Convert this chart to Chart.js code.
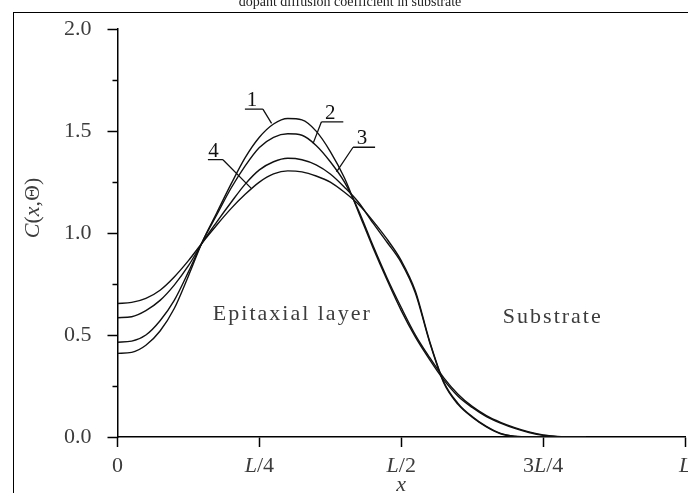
<!DOCTYPE html>
<html><head><meta charset="utf-8">
<script src="https://cdn.jsdelivr.net/npm/chart.js@4"></script>
<style>
html,body{margin:0;padding:0;background:#fff;overflow:hidden;}
#wrap{position:relative;width:688px;height:493px;overflow:hidden;}
#frame{position:absolute;left:13px;top:12px;width:720px;height:520px;border:1px solid #000;box-sizing:border-box;pointer-events:none;}
canvas{position:absolute;left:0;top:0;}
</style></head><body>
<div id="wrap"><canvas id="c" width="688" height="493"></canvas><div id="frame"></div></div>
<script>
// ---- data (x in units of L) ----
const xValues = [0, 0.025, 0.05, 0.075, 0.1, 0.125, 0.15, 0.175, 0.2, 0.225, 0.25, 0.275, 0.3, 0.325, 0.35, 0.375, 0.4, 0.425, 0.45, 0.475, 0.5, 0.525, 0.55, 0.575, 0.6, 0.625, 0.65, 0.675, 0.7, 0.725, 0.75, 0.775, 0.8, 0.825];
const curve1 = [0.41, 0.415, 0.45, 0.52, 0.63, 0.79, 0.96, 1.10, 1.24, 1.37, 1.47, 1.535, 1.562, 1.555, 1.50, 1.40, 1.27, 1.10, 0.93, 0.77, 0.62, 0.49, 0.38, 0.28, 0.20, 0.145, 0.10, 0.068, 0.042, 0.022, 0.008, 0.002, 0, 0];
const curve2 = [0.465, 0.47, 0.50, 0.57, 0.67, 0.81, 0.96, 1.09, 1.22, 1.33, 1.42, 1.47, 1.487, 1.48, 1.43, 1.35, 1.25, 1.11, 0.94, 0.78, 0.635, 0.50, 0.39, 0.29, 0.21, 0.15, 0.105, 0.072, 0.046, 0.025, 0.01, 0.003, 0, 0];
const curve3 = [0.585, 0.59, 0.62, 0.67, 0.745, 0.84, 0.955, 1.055, 1.15, 1.24, 1.31, 1.35, 1.367, 1.36, 1.335, 1.29, 1.225, 1.15, 1.05, 0.955, 0.855, 0.705, 0.465, 0.265, 0.16, 0.097, 0.05, 0.016, 0.003, 0, 0, 0, 0, 0];
const curve4 = [0.655, 0.66, 0.68, 0.72, 0.785, 0.865, 0.955, 1.04, 1.12, 1.19, 1.25, 1.29, 1.305, 1.30, 1.28, 1.25, 1.20, 1.14, 1.06, 0.97, 0.865, 0.715, 0.47, 0.27, 0.165, 0.10, 0.052, 0.018, 0.004, 0, 0, 0, 0, 0];
const curveNames = ['1', '2', '3', '4'];
const yMajorTicks = [0, 0.5, 1.0, 1.5, 2.0];
const yMinorTicks = [0.25, 0.75, 1.25, 1.75];
const xTickValues = [0, 0.25, 0.5, 0.75, 1];
const xTickLabels = ['0', 'L/4', 'L/2', '3L/4', 'L'];
const titleText = 'dopant diffusion coefficient in substrate';
const yTitle = 'C(x,\u0398)';
const xTitle = 'x';
const regionTexts = ['Epitaxial layer', 'Substrate'];
const regionAt = [[0.168, 0.575], [0.679, 0.56]];
// curve label annotations: [underline x0, x1, underline y, leader start side, leader end x, y]
const curveLabelAt = [
  [0.2245, 0.2562, 1.608, 1, 0.2715, 1.538],
  [0.3592, 0.3979, 1.545, 0, 0.3447, 1.440],
  [0.4151, 0.4539, 1.421, 0, 0.3860, 1.300],
  [0.1593, 0.1858, 1.360, 1, 0.2362, 1.218]
];

const serif = '"Liberation Serif", "Times New Roman", serif';
const textCol = '#3c3c3c';

function richSegments(str, italicChars) {
  const segs = [];
  for (const ch of str) {
    const it = italicChars.includes(ch);
    if (segs.length && segs[segs.length - 1].it === it) segs[segs.length - 1].t += ch;
    else segs.push({t: ch, it});
  }
  return segs;
}
function drawRich(ctx, segs, x, y, size, align) {
  let w = 0;
  for (const s of segs) { ctx.font = (s.it ? 'italic ' : '') + size + 'px ' + serif; w += ctx.measureText(s.t).width; }
  let cx = align === 'center' ? x - w / 2 : (align === 'right' ? x - w : x);
  ctx.textAlign = 'left';
  for (const s of segs) { ctx.font = (s.it ? 'italic ' : '') + size + 'px ' + serif; ctx.fillText(s.t, cx, y); cx += ctx.measureText(s.t).width; }
}

const extras = {
  id: 'extras',
  afterDraw(chart) {
    const {ctx, scales: {x, y}, chartArea} = chart;
    ctx.save();
    ctx.fillStyle = '#222';
    ctx.textBaseline = 'alphabetic';
    // title (cut at top)
    ctx.font = '14px ' + serif;
    ctx.textAlign = 'center';
    ctx.fillText(titleText, 350, 6);
    ctx.fillStyle = textCol;
    // minor y ticks
    ctx.strokeStyle = '#000'; ctx.lineWidth = 1.5;
    for (const v of yMinorTicks) {
      const py = Math.round(y.getPixelForValue(v)) + 0.5;
      ctx.beginPath(); ctx.moveTo(chartArea.left - 5, py); ctx.lineTo(chartArea.left, py); ctx.stroke();
    }
    // x tick labels
    xTickValues.forEach((v, i) => {
      drawRich(ctx, richSegments(xTickLabels[i], ['L']), x.getPixelForValue(v), 472, 22, 'center');
    });
    // x title
    drawRich(ctx, richSegments(xTitle, ['x']), x.getPixelForValue(0.5), 491, 22, 'center');
    // y title rotated
    ctx.save();
    ctx.translate(39, 208);
    ctx.rotate(-Math.PI / 2);
    drawRich(ctx, richSegments(yTitle, ['C', 'x']), 0, 0, 22, 'center');
    ctx.restore();
    // region labels
    ctx.font = '22px ' + serif;
    ctx.textAlign = 'left';
    ctx.letterSpacing = '2px';
    regionTexts.forEach((t, i) => {
      ctx.fillText(t, x.getPixelForValue(regionAt[i][0]), y.getPixelForValue(regionAt[i][1]));
    });
    ctx.letterSpacing = '0px';
    // curve number labels
    ctx.fillStyle = '#111';
    ctx.strokeStyle = '#111'; ctx.lineWidth = 1.3;
    curveLabelAt.forEach((a, i) => {
      const x0 = x.getPixelForValue(a[0]), x1 = x.getPixelForValue(a[1]), uy = y.getPixelForValue(a[2]);
      ctx.beginPath(); ctx.moveTo(x0, uy); ctx.lineTo(x1, uy);
      ctx.moveTo(a[3] ? x1 : x0, uy); ctx.lineTo(x.getPixelForValue(a[4]), y.getPixelForValue(a[5]));
      ctx.stroke();
      ctx.font = '21px ' + serif; ctx.textAlign = 'center';
      ctx.fillText(curveNames[i], (x0 + x1) / 2 - 2, uy - 3);
    });
    ctx.restore();
  }
};

function series(vals) { return xValues.map((xv, i) => ({x: xv, y: vals[i]})); }
const ds = [curve1, curve2, curve3, curve4].map((c, i) => ({
  label: curveNames[i], data: series(c), borderColor: '#111', borderWidth: 1.4,
  pointRadius: 0, cubicInterpolationMode: 'monotone', fill: false
}));

new Chart(document.getElementById('c'), {
  type: 'line',
  data: {datasets: ds},
  options: {
    responsive: false, animation: false, devicePixelRatio: 1,
    layout: {padding: {top: 27, right: 3, left: 0, bottom: 0}},
    plugins: {legend: {display: false}, tooltip: {enabled: false}},
    scales: {
      x: {
        type: 'linear', min: 0, max: 1,
        afterBuildTicks: s => { s.ticks = xTickValues.map(v => ({value: v})); },
        ticks: {display: false},
        grid: {drawOnChartArea: false, drawTicks: true, tickLength: 10, tickColor: '#000', tickWidth: 1.5},
        border: {display: true, color: '#000', width: 1.5},
        afterFit: s => { s.height = 56; }
      },
      y: {
        type: 'linear', min: 0, max: 2,
        afterBuildTicks: s => { s.ticks = yMajorTicks.map(v => ({value: v})); },
        ticks: {color: textCol, font: {family: serif, size: 22}, padding: 16, callback: v => v.toFixed(1)},
        grid: {drawOnChartArea: false, drawTicks: true, tickLength: 10, tickColor: '#000', tickWidth: 1.5},
        border: {display: true, color: '#000', width: 1.5},
        afterFit: s => { s.width = 117.5; }
      }
    }
  },
  plugins: [extras]
});
</script>
</body></html>
